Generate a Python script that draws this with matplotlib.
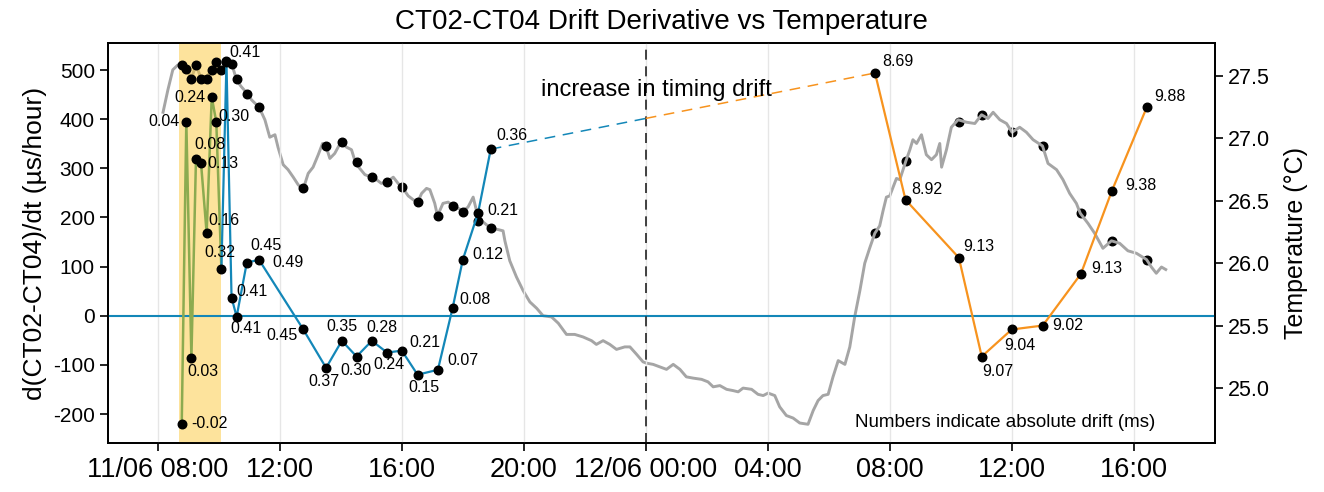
import matplotlib
matplotlib.use("Agg")
import matplotlib.pyplot as plt
import numpy as np
import pandas as pd

plt.rcParams['font.family'] = ['Liberation Sans', 'DejaVu Sans']
plt.rcParams['axes.unicode_minus'] = False

# drift derivative samples, day 1 (first 9 fall inside the yellow window)
day1_times = ["08:47", "08:56", "09:06", "09:15", "09:25", "09:36", "09:46", "09:55", "10:05",
              "10:15", "10:25", "10:35", "10:55", "11:19", "12:45", "13:31", "14:02", "14:31",
              "15:01", "15:31", "16:00", "16:31", "17:11", "17:40", "18:00", "18:30", "18:55"]
day1_rate = [-220, 395, -86, 319, 310, 168, 445, 394, 95,
             516, 37, -2, 108, 114, -26, -106, -51, -83,
             -51, -75, -71, -120, -110, 16, 114, 209, 339]
day1_drift = ["-0.02", "0.04", "0.03", "0.08", "0.13", "0.16", "0.24", "0.30", "0.32",
              "0.41", "0.41", "0.41", "0.45", "0.49", "0.45", "0.37", "0.35", "0.30",
              "0.28", "0.24", "0.21", "0.15", "0.07", "0.08", "0.12", "0.21", "0.36"]
day1_temp = [27.59, 27.56, 27.48, 27.59, 27.48, 27.48, 27.55, 27.61, 27.55,
             27.62, 27.60, 27.48, 27.36, 27.25, 26.60, 26.94, 26.97, 26.81,
             26.69, 26.65, 26.61, 26.49, 26.38, 26.46, 26.41, 26.34, 26.28]
n_window = 9

# day 2
day2_times = ["07:31", "08:31", "10:16", "11:01", "12:00", "13:01", "14:16", "15:17", "16:26"]
day2_rate = [494, 236, 118, -83, -28, -20, 85, 254, 425]
day2_drift = ["8.69", "8.92", "9.13", "9.07", "9.04", "9.02", "9.13", "9.38", "9.88"]
day2_temp = [26.24, 26.82, 27.13, 27.19, 27.05, 26.94, 26.40, 26.18, 26.03]

# temperature trace, hours after 11/06 08:00
temp_hours = [0.17, 0.33, 0.49, 0.66, 0.78, 0.94, 1.10, 1.25, 1.42, 1.57, 1.76, 1.92, 2.09, 2.25,
              2.42, 2.58, 2.72, 2.93, 3.07, 3.32, 3.51, 3.67, 3.84, 3.94, 4.11, 4.27, 4.44, 4.60,
              4.76, 4.93, 5.09, 5.26, 5.40, 5.51, 5.64, 5.80, 6.00, 6.19, 6.35, 6.49, 6.62, 6.79,
              7.01, 7.17, 7.33, 7.50, 7.72, 7.88, 8.01, 8.21, 8.37, 8.52, 8.65, 8.81, 8.92, 9.08,
              9.17, 9.35, 9.52, 9.68, 9.85, 10.01, 10.17, 10.34, 10.50, 10.67, 10.92, 11.16, 11.32,
              11.38, 11.54, 11.76, 11.98, 12.20, 12.42, 12.63, 12.91, 13.13, 13.40, 13.67, 13.94,
              14.22, 14.38, 14.60, 14.82, 15.04, 15.31, 15.48, 15.70, 15.91, 16.02, 16.24, 16.46,
              16.68, 16.90, 17.12, 17.33, 17.55, 17.83, 18.04, 18.21, 18.43, 18.65, 18.86, 19.03,
              19.19, 19.47, 19.68, 19.85, 20.01, 20.23, 20.39, 20.61, 20.83, 21.05, 21.32, 21.49,
              21.65, 21.81, 21.98, 22.14, 22.31, 22.53, 22.69, 22.85, 23.02, 23.18, 23.34, 23.51,
              23.67, 23.78, 23.89, 24.00, 24.11, 24.22, 24.33, 24.53, 24.66, 24.76, 24.88, 25.04,
              25.20, 25.37, 25.53, 25.64, 25.70, 25.86, 26.02, 26.24, 26.52, 26.79, 27.01, 27.22,
              27.39, 27.61, 27.83, 28.01, 28.26, 28.48, 28.70, 29.01, 29.19, 29.47, 29.68, 29.90,
              30.12, 30.25, 30.50, 30.72, 30.99, 31.27, 31.54, 31.81, 32.09, 32.42, 32.58, 32.74,
              32.91, 33.05]
temp_vals = [27.21, 27.39, 27.55, 27.59, 27.59, 27.56, 27.48, 27.59, 27.48, 27.48, 27.55, 27.61,
             27.55, 27.62, 27.60, 27.47, 27.42, 27.36, 27.31, 27.25, 27.15, 27.01, 27.03, 26.93,
             26.79, 26.75, 26.69, 26.63, 26.59, 26.72, 26.77, 26.87, 26.96, 26.94, 26.84, 26.88,
             26.97, 26.93, 26.91, 26.80, 26.76, 26.71, 26.69, 26.67, 26.64, 26.65, 26.69, 26.64,
             26.61, 26.54, 26.51, 26.49, 26.56, 26.60, 26.59, 26.48, 26.38, 26.48, 26.49, 26.46,
             26.44, 26.42, 26.45, 26.53, 26.37, 26.33, 26.28, 26.27, 26.26, 26.18, 26.02, 25.89,
             25.78, 25.69, 25.64, 25.58, 25.57, 25.52, 25.43, 25.43, 25.41, 25.38, 25.35, 25.38,
             25.35, 25.31, 25.33, 25.33, 25.27, 25.21, 25.20, 25.19, 25.17, 25.15, 25.19, 25.15,
             25.09, 25.08, 25.07, 25.05, 25.01, 25.02, 24.99, 24.98, 24.97, 25.00, 24.99, 24.95,
             24.94, 24.96, 24.94, 24.85, 24.78, 24.76, 24.72, 24.71, 24.82, 24.90, 24.94, 24.95,
             25.09, 25.22, 25.19, 25.33, 25.57, 25.78, 26.00, 26.12, 26.24, 26.30, 26.42, 26.53,
             26.54, 26.61, 26.68, 26.67, 26.82, 26.91, 26.99, 26.96, 27.03, 26.87, 26.83, 26.87,
             26.96, 26.77, 26.91, 27.09, 27.15, 27.13, 27.12, 27.19, 27.16, 27.21, 27.15, 27.12,
             27.05, 27.09, 27.05, 26.99, 26.94, 26.80, 26.75, 26.67, 26.56, 26.48, 26.40, 26.32,
             26.24, 26.12, 26.18, 26.16, 26.10, 26.08, 26.03, 25.97, 25.92, 25.97, 25.95]

# label placement (dx, dy in pixels, alignment)
day1_offsets = [(10, 0, 'left'), (-7, 0, 'right'), (12, -14, 'center'), (14, 14, 'center'),
                (6, 0, 'left'), (17, 13, 'center'), (-6, 0, 'right'), (2, 6, 'left'),
                (-2, 17, 'center'), (3, 10, 'left'), (5, 6, 'left'), (9, -12, 'center'),
                (19, 17, 'center'), (13, -3, 'left'), (-5, -7, 'right'), (-2, -14, 'center'),
                (0, 14, 'center'), (-1, -14, 'center'), (10, 13, 'center'), (2, -12, 'center'),
                (8, 8, 'left'), (6, -13, 'center'), (9, 9, 'left'), (7, 8, 'left'),
                (10, 5, 'left'), (9, 3, 'left'), (6, 14, 'left')]
day2_offsets = [(7, 11, 'left'), (6, 10, 'left'), (4, 11, 'left'), (16, -15, 'center'),
                (8, -16, 'center'), (10, 0, 'left'), (10, 5, 'left'), (13, 5, 'left'),
                (7, 10, 'left')]

BLUE = "#1387b8"
ORANGE = "#f7931e"
GREEN = "#8cab50"
GREY = "#a5a5a5"

start = pd.Timestamp("2024-06-11 08:00")
midnight = pd.Timestamp("2024-06-12 00:00")
t1 = pd.to_datetime(["2024-06-11 " + t for t in day1_times])
t2 = pd.to_datetime(["2024-06-12 " + t for t in day2_times])
tt = start + pd.to_timedelta(temp_hours, unit="h")

fig = plt.figure(figsize=(13.24, 4.92), dpi=100)
ax = fig.add_axes([0.0816, 0.0996, 0.8361, 0.813])
ax2 = ax.twinx()
ax.set_zorder(ax2.get_zorder() + 1)
ax.patch.set_visible(False)

# temperature on the right axis
ax2.plot(tt, temp_vals, color=GREY, lw=2.1, zorder=2)
ax2.axvspan(pd.Timestamp("2024-06-11 08:41"), pd.Timestamp("2024-06-11 10:04"),
            color="#fcc93a", alpha=0.5, lw=0, zorder=3)
ax2.scatter(t1, day1_temp, s=38, color="black", zorder=4)
ax2.scatter(t2, day2_temp, s=38, color="black", zorder=1)
ax2.set_ylim(24.56, 27.765)
ax2.set_yticks([25.0, 25.5, 26.0, 26.5, 27.0, 27.5])
ax2.set_yticklabels(["25.0", "25.5", "26.0", "26.5", "27.0", "27.5"])
ax2.set_ylabel("Temperature (°C)", fontsize=18, labelpad=10)

# drift derivative on the left axis
ax.axhline(0, color=BLUE, lw=1.5, zorder=1)
ax.axvline(midnight, color="#222222", lw=1.2, ls=(0, (6, 4)), zorder=1)
ax.plot(t1[:n_window], day1_rate[:n_window], color=GREEN, lw=1.8, zorder=2)
ax.plot(t1[n_window - 1:], day1_rate[n_window - 1:], color=BLUE, lw=1.6, zorder=2)
ax.plot(t2, day2_rate, color=ORANGE, lw=1.6, zorder=2)

# dashed bridge over the night, blue before midnight and orange after
frac = (midnight - t1[-1]) / (t2[0] - t1[-1])
mid_val = day1_rate[-1] + frac * (day2_rate[0] - day1_rate[-1])
ax.plot([t1[-1], midnight], [day1_rate[-1], mid_val], color=BLUE, lw=1.1, ls=(0, (7, 5)))
ax.plot([midnight, t2[0]], [mid_val, day2_rate[0]], color=ORANGE, lw=1.1, ls=(0, (7, 5)))

ax.scatter(t1, day1_rate, s=38, color="black", zorder=5)
ax.scatter(t2, day2_rate, s=38, color="black", zorder=5)

for t, v, lab, (dx, dy, ha) in zip(t1, day1_rate, day1_drift, day1_offsets):
    ax.annotate(lab, (t, v), xytext=(dx, dy), textcoords="offset pixels",
                ha=ha, va="center", fontsize=11.5, zorder=6)
for t, v, lab, (dx, dy, ha) in zip(t2, day2_rate, day2_drift, day2_offsets):
    ax.annotate(lab, (t, v), xytext=(dx, dy), textcoords="offset pixels",
                ha=ha, va="center", fontsize=11.5, zorder=6)

ax.text(pd.Timestamp("2024-06-12 00:20"), 459, "increase in timing drift",
        ha="center", va="center", fontsize=17)
ax.text(0.946, 0.05, "Numbers indicate absolute drift (ms)", transform=ax.transAxes,
        ha="right", va="center", fontsize=13.5)

ticks = pd.date_range(start, periods=9, freq="4h")
labels = [t.strftime("%d/%m %H:%M") if i == 0 or t.hour == 0 else t.strftime("%H:%M")
          for i, t in enumerate(ticks)]
ax.set_xticks(ticks)
ax.set_xticklabels(labels)
ax.set_xlim(start - pd.Timedelta(minutes=98), start + pd.Timedelta(hours=34, minutes=40))
ax.set_ylim(-259, 555)
ax.set_yticks([-200, -100, 0, 100, 200, 300, 400, 500])
ax.set_ylabel("d(CT02-CT04)/dt (µs/hour)", fontsize=19)
ax.grid(axis="x", color="#e6e6e6", lw=1.0)
ax.set_axisbelow(True)
ax.set_title("CT02-CT04 Drift Derivative vs Temperature", fontsize=20, pad=10)

ax.tick_params(axis="x", labelsize=19.5, length=6, width=1.2, pad=4)
ax.tick_params(axis="y", labelsize=15, length=6, width=1.2)
ax2.tick_params(axis="y", labelsize=15.5, length=6, width=1.2)
for a in (ax, ax2):
    for s in a.spines.values():
        s.set_linewidth(1.3)

fig.savefig("out.png", dpi=100)
